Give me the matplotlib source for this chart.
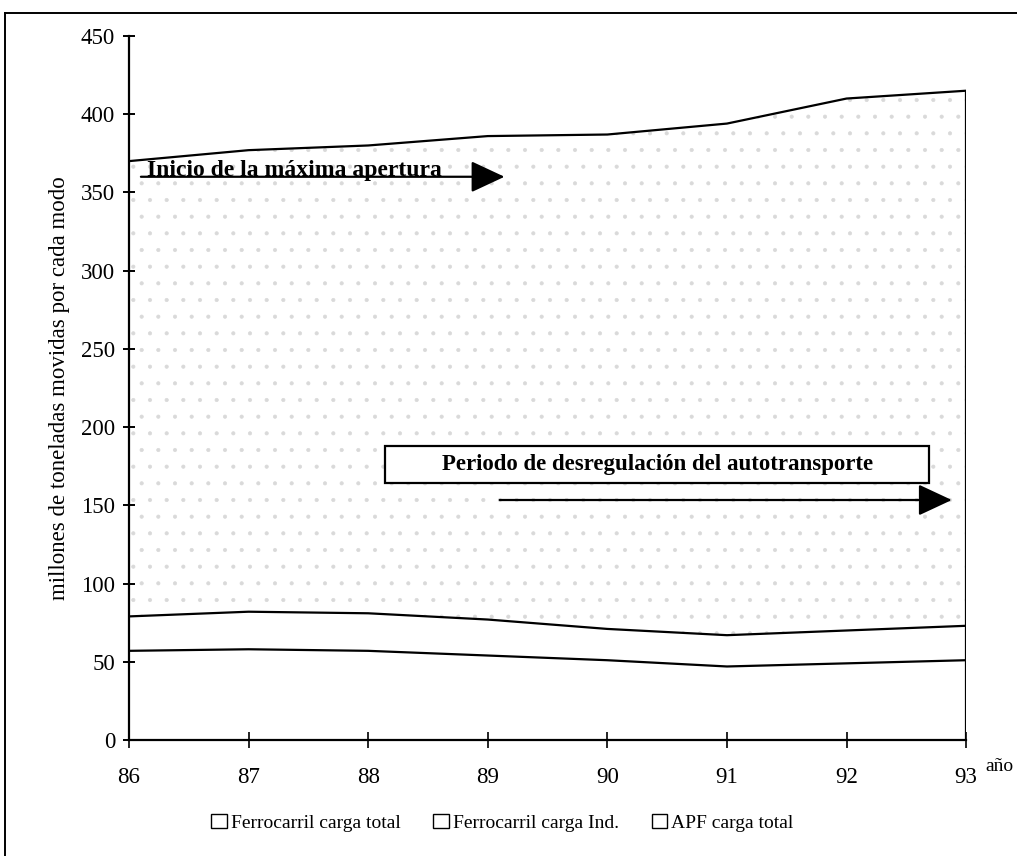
import numpy as np
import matplotlib
matplotlib.use("Agg")
import matplotlib.pyplot as plt
from matplotlib.patches import Patch, Rectangle
from matplotlib.lines import Line2D

# data (stacked areas)
years = [86, 87, 88, 89, 90, 91, 92, 93]
year_labels = ['86', '87', '88', '89', '90', '91', '92', '93']
fc_total = np.array([57, 58, 57, 54, 51, 47, 49, 51])
fc_ind = np.array([22, 24, 24, 23, 20, 20, 21, 22])
apf_total = np.array([291, 295, 299, 309, 316, 327, 340, 342])
series_names = ['Ferrocarril carga total', 'Ferrocarril carga Ind.', 'APF carga total']

plt.rcParams['font.family'] = 'Liberation Serif'
plt.rcParams['hatch.linewidth'] = 0.5

fig = plt.figure(figsize=(10.17, 8.56), dpi=100)
ax = fig.add_axes([0.1268, 0.1355, 0.8232, 0.8225])

polys = ax.stackplot(years, fc_total, fc_ind, apf_total,
                     colors=['white', 'white', 'white'], linewidth=0)
polys[2].set_hatch('.')
polys[2].set_edgecolor('#d9d9d9')

lvl1 = fc_total
lvl2 = fc_total + fc_ind
lvl3 = lvl2 + apf_total
for lvl in (lvl1, lvl2, lvl3):
    ax.plot(years, lvl, color='black', lw=1.6)
ax.vlines(years[-1], 0, lvl3[-1], color='black', lw=1.6)

ax.set_xlim(86, 93)
ax.set_ylim(0, 450)
ax.set_xticks(years)
ax.set_xticklabels(year_labels)
ax.set_yticks(range(0, 451, 50))
for s in ('top', 'right'):
    ax.spines[s].set_visible(False)
for s in ('left', 'bottom'):
    ax.spines[s].set_linewidth(1.6)
ax.tick_params(axis='y', direction='inout', length=8, width=1.4, labelsize=16.5, pad=6)
ax.tick_params(axis='x', direction='inout', length=11, width=1.2, labelsize=16.5, pad=14)
ax.set_ylabel('millones de toneladas movidas por cada modo', fontsize=16.5, labelpad=8)

# annotations
ax.text(86.15, 360.5, 'Inicio de la máxima apertura', fontsize=17, fontweight='bold',
        ha='left', va='baseline')
ax.annotate('', xy=(89.14, 360), xytext=(86.1, 360),
            arrowprops=dict(arrowstyle='-|>,head_length=1.5,head_width=0.7',
                            mutation_scale=14, lw=1.6, color='black',
                            shrinkA=0, shrinkB=0))

ax.add_patch(Rectangle((88.14, 164.3), 4.55, 23.7, facecolor='white',
                       edgecolor='black', lw=1.6, zorder=3))
ax.text(90.42, 176, 'Periodo de desregulación del autotransporte', fontsize=16.5,
        fontweight='bold', ha='center', va='center', zorder=4)
ax.annotate('', xy=(92.88, 153.4), xytext=(89.1, 153.4),
            arrowprops=dict(arrowstyle='-|>,head_length=1.5,head_width=0.7',
                            mutation_scale=14, lw=1.6, color='black',
                            shrinkA=0, shrinkB=0))

fig.text(0.969, 0.104, 'año', fontsize=14, ha='left', va='center')

handles = [Patch(facecolor='white', edgecolor='black', lw=1.0) for _ in series_names]
fig.legend(handles, series_names, loc='center', bbox_to_anchor=(0.494, 0.039), ncol=3,
           frameon=False, fontsize=14, handlelength=0.8, handleheight=0.8,
           handletextpad=0.2, columnspacing=1.7)

# outer frame of the scanned page figure
fx = 5 / 1017
fy = 1 - 13 / 856
fig.add_artist(Line2D([fx, 1.0], [fy, fy], transform=fig.transFigure, color='black', lw=1.4))
fig.add_artist(Line2D([fx, fx], [0.0, fy], transform=fig.transFigure, color='black', lw=1.4))

fig.savefig('out.png', dpi=100)
